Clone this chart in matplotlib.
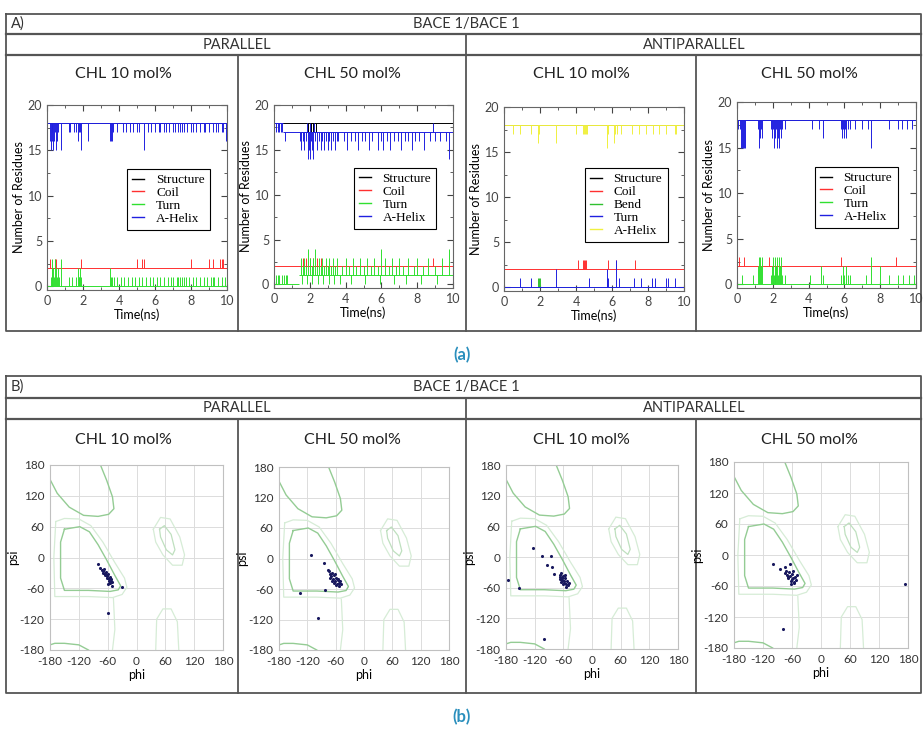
import matplotlib
matplotlib.use('Agg')
import matplotlib.pyplot as plt
from matplotlib.lines import Line2D

W, H = 924, 733
SANS = ['Lato', 'DejaVu Sans']
SERIF = ['Liberation Serif', 'DejaVu Serif']
plt.rcParams['font.family'] = SANS
plt.rcParams['axes.unicode_minus'] = False

# ---------------- DSSP data (time in ns, number of residues) ----------------
# each series: baseline segments (t0, t1, level) + spikes (t, value)
a1_struct_segs = [(0, 10, 18)]
a1_struct = []
a1_helix_segs = [(0, 10, 18)]
a1_helix = [(0.15, 16), (0.2, 15), (0.25, 17), (0.3, 16), (0.35, 15), (0.4, 16), (0.45, 17),
            (0.5, 15), (0.55, 16), (0.6, 17), (0.75, 15), (1.2, 17), (1.25, 17), (1.5, 17),
            (1.6, 17), (1.7, 16), (1.75, 17), (1.85, 17), (1.9, 15), (2.3, 16), (3.5, 16),
            (3.55, 16), (3.6, 16), (3.65, 17), (3.9, 17), (4.2, 17), (4.4, 17), (4.6, 17),
            (4.8, 17), (5.0, 17), (5.1, 17), (5.4, 15), (5.6, 17), (5.8, 17), (6.0, 17),
            (6.2, 17), (6.3, 17), (6.5, 17), (6.6, 17), (6.8, 17), (7.0, 17), (7.1, 17),
            (7.3, 17), (7.4, 17), (7.5, 17), (7.6, 17), (7.8, 17), (8.0, 17), (8.1, 17),
            (8.3, 17), (8.5, 17), (8.7, 17), (8.8, 17), (9.0, 17), (9.2, 17), (9.4, 17),
            (9.5, 17), (9.7, 17), (9.8, 17), (9.95, 16)]
a1_coil_segs = [(0, 10, 2)]
a1_coil = [(0.15, 3), (0.45, 3), (0.5, 3), (1.9, 3), (5.0, 3), (5.3, 3), (5.4, 3), (8.0, 3),
           (9.0, 3), (9.2, 3), (9.6, 3), (9.7, 3), (9.75, 3)]
a1_turn_segs = [(0, 10, 0)]
a1_turn = [(0.2, 1), (0.25, 2), (0.3, 3), (0.35, 2), (0.4, 1), (0.45, 3), (0.5, 2), (0.55, 1),
           (0.6, 2), (0.65, 1), (0.8, 3), (1.2, 1), (1.4, 1), (1.6, 1), (1.7, 2), (1.75, 1),
           (1.8, 1), (1.85, 2), (1.9, 1), (3.5, 2), (3.55, 1), (3.6, 1), (3.7, 1), (3.9, 1),
           (4.1, 1), (4.3, 1), (4.5, 1), (4.7, 1), (4.9, 1), (5.1, 1), (5.3, 1), (5.5, 1),
           (5.7, 1), (5.9, 1), (6.1, 1), (6.3, 1), (6.5, 1), (6.7, 1), (6.9, 1), (7.0, 1),
           (7.2, 1), (7.3, 1), (7.4, 1), (7.5, 1), (7.6, 1), (7.7, 1), (7.9, 1), (8.1, 1),
           (8.3, 1), (8.5, 1), (8.7, 1), (8.9, 1), (9.1, 1), (9.2, 1), (9.3, 1), (9.5, 1),
           (9.7, 1), (9.9, 1)]

a2_struct_segs = [(0, 10, 18)]
a2_struct = [(1.9, 17), (2.05, 17), (2.2, 17), (2.35, 17), (8.9, 17)]
a2_helix_segs = [(0, 0.5, 18), (0.5, 10, 17)]
a2_helix = [(0.1, 17), (0.2, 17), (0.3, 17), (0.4, 17), (0.45, 17), (0.6, 16),
            (1.45, 16), (1.5, 15), (1.6, 16), (1.7, 15), (1.8, 16), (1.9, 14), (1.95, 15),
            (2.0, 14), (2.05, 16), (2.1, 15), (2.2, 14), (2.3, 16), (2.4, 15), (2.5, 16),
            (2.6, 15), (2.7, 16), (2.8, 15), (2.9, 16), (3.0, 15), (3.1, 16), (3.2, 15),
            (3.3, 16), (3.4, 15), (3.5, 16), (3.6, 16), (3.9, 16), (4.1, 15), (4.3, 16),
            (4.5, 16), (4.7, 15), (4.9, 16), (5.1, 16), (5.3, 15), (5.5, 16), (5.8, 15),
            (6.0, 16), (6.1, 15), (6.3, 16), (6.5, 15), (6.7, 16), (6.9, 16), (7.1, 15),
            (7.3, 16), (7.5, 16), (7.7, 15), (7.9, 16), (8.1, 16), (8.4, 15), (8.7, 16),
            (9.0, 16), (9.3, 16), (9.6, 16), (9.8, 14),
            (1.85, 18), (2.0, 18), (2.25, 18), (8.9, 18)]
a2_coil_segs = [(0, 10, 2)]
a2_coil = [(1.6, 3), (1.8, 3), (1.9, 3), (2.0, 3), (2.2, 3), (2.4, 3), (2.6, 3), (8.9, 3)]
a2_turn_segs = [(0, 1.4, 0), (1.4, 10, 1)]
a2_turn = [(0.1, 1), (0.2, 1), (0.3, 1), (0.45, 1), (0.55, 1), (0.65, 1), (0.7, 1),
           (1.5, 3), (1.6, 2), (1.7, 3), (1.8, 2), (1.9, 4), (2.0, 3), (2.1, 2), (2.2, 3),
           (2.3, 4), (2.4, 2), (2.5, 3), (2.6, 2), (2.7, 3), (2.8, 2), (2.9, 3), (3.0, 2),
           (3.1, 3), (3.2, 2), (3.3, 3), (3.4, 2), (3.5, 3), (3.8, 2), (4.0, 3), (4.2, 2),
           (4.4, 3), (4.6, 2), (4.8, 3), (5.0, 2), (5.2, 3), (5.4, 2), (5.6, 3), (5.8, 2),
           (6.0, 4), (6.2, 3), (6.4, 2), (6.6, 3), (6.8, 2), (7.0, 3), (7.2, 2), (7.5, 3),
           (7.8, 2), (8.0, 3), (8.3, 2), (8.6, 3), (9.0, 2), (9.4, 3), (9.8, 4),
           (1.55, 0), (1.85, 0), (2.15, 0), (2.45, 0), (2.75, 0), (3.05, 0), (3.35, 0),
           (3.7, 0), (4.3, 0), (5.1, 0), (5.9, 0), (6.7, 0), (7.4, 0), (8.2, 0), (9.1, 0)]

a3_struct_segs = [(0, 10, 18)]
a3_struct = []
a3_helix_segs = [(0, 10, 18)]
a3_helix = [(0.5, 17), (0.9, 17), (1.5, 17), (1.9, 16), (1.95, 17), (2.9, 16), (4.0, 17),
            (4.4, 17), (4.45, 17), (4.5, 17), (4.55, 17), (4.6, 17), (5.7, 15.5), (5.75, 16),
            (5.8, 17), (6.1, 16), (6.15, 17), (6.3, 17), (6.5, 17), (7.1, 17), (7.5, 17),
            (7.9, 17), (8.3, 17), (8.6, 17), (9.0, 17), (9.5, 17), (9.55, 17), (9.98, 17)]
a3_coil_segs = [(0, 10, 2)]
a3_coil = [(4.1, 3), (4.4, 3), (4.45, 3), (4.5, 3), (4.55, 3), (5.8, 3), (6.2, 3), (7.3, 3)]
a3_bend_segs = [(0, 10, 0)]
a3_bend = [(1.9, 1), (1.95, 1), (2.0, 1)]
a3_turn_segs = [(0, 10, 0)]
a3_turn = [(0.9, 1), (1.5, 1), (2.9, 2), (4.7, 1), (5.7, 2), (5.75, 1), (5.8, 1), (6.2, 3),
           (6.4, 1), (7.2, 1), (7.6, 1), (8.2, 1), (8.4, 1), (9.0, 1), (9.1, 1), (9.5, 1)]

a4_struct_segs = [(0, 10, 18)]
a4_struct = []
a4_helix_segs = [(0, 10, 18)]
a4_helix = [(0.05, 17), (0.15, 17), (0.25, 15), (0.3, 15), (0.35, 15), (0.4, 15), (0.45, 15),
            (1.2, 17), (1.25, 15), (1.3, 16), (1.35, 17), (1.4, 16), (1.9, 17), (1.95, 16),
            (2.0, 17), (2.05, 15), (2.1, 16), (2.2, 17), (2.25, 15), (2.3, 16), (2.35, 15),
            (2.4, 17), (2.45, 16), (2.5, 17), (2.7, 17), (4.2, 17), (4.6, 17), (4.8, 16),
            (5.8, 17), (5.85, 16), (5.9, 17), (6.0, 16), (6.05, 17), (6.1, 16), (6.2, 17),
            (6.3, 17), (6.6, 17), (7.0, 17), (7.3, 17), (7.5, 15), (8.5, 17), (9.0, 17),
            (9.2, 17), (9.5, 17), (9.8, 17)]
a4_coil_segs = [(0, 10, 2)]
a4_coil = [(0.1, 3), (0.4, 3), (1.8, 3), (5.8, 3), (8.9, 3)]
a4_turn_segs = [(0, 10, 0)]
a4_turn = [(0.3, 1), (0.9, 1), (1.15, 2), (1.25, 3), (1.3, 3), (1.35, 2), (1.4, 3), (1.9, 1),
           (1.95, 2), (2.0, 3), (2.05, 1), (2.1, 2), (2.15, 3), (2.2, 2), (2.25, 3), (2.3, 1),
           (2.35, 3), (2.4, 2), (2.45, 3), (2.5, 1), (2.7, 1), (4.1, 1), (4.7, 2), (4.8, 1),
           (5.8, 1), (5.9, 2), (6.0, 1), (6.1, 2), (6.2, 1), (6.3, 1), (7.2, 1), (7.5, 3),
           (8.0, 2), (8.5, 1), (9.0, 1), (9.3, 1), (9.6, 1), (9.9, 1)]

# ---------------- Ramachandran data (phi, psi in degrees) ----------------
b1_points = [(-80, -12), (-75, -20), (-72, -25), (-70, -30), (-68, -22), (-66, -35), (-64, -28),
             (-62, -40), (-60, -33), (-58, -45), (-56, -38), (-55, -50), (-53, -42), (-52, -55),
             (-50, -47), (-65, -32), (-61, -36), (-57, -41), (-69, -27), (-54, -46), (-59, -52),
             (-30, -58), (-60, -108)]
b2_points = [(-113, 7), (-85, -8), (-135, -68), (-83, -61), (-97, -117), (-77, -22),
             (-75, -25), (-72, -30), (-70, -35), (-68, -28), (-66, -40), (-64, -33), (-62, -45),
             (-60, -38), (-58, -50), (-56, -42), (-54, -48), (-52, -55), (-50, -45), (-48, -50),
             (-63, -48), (-67, -44), (-59, -53), (-55, -40), (-71, -38), (-61, -30)]
b3_points = [(-124, 17), (-104, 2), (-86, 2), (-94, -15), (-84, -19), (-175, -45), (-152, -60),
             (-100, -161), (-79, -33), (-68, -35), (-66, -40), (-64, -32), (-62, -45), (-60, -38),
             (-58, -50), (-56, -42), (-54, -52), (-52, -47), (-50, -55), (-48, -50), (-65, -48),
             (-61, -53), (-57, -36), (-63, -42), (-55, -58), (-59, -46), (-67, -44)]
b4_points = [(-99, -18), (-85, -28), (-75, -23), (-65, -18), (174, -56), (-79, -143),
             (-72, -30), (-70, -38), (-68, -45), (-66, -32), (-64, -40), (-62, -50), (-60, -36),
             (-58, -44), (-56, -55), (-54, -42), (-52, -48), (-50, -38), (-63, -56), (-57, -30),
             (-69, -42), (-61, -46), (-55, -52), (-74, -35)]

# allowed-region outlines (background of the Ramachandran plot)
core_alpha_phi = [-150, -118, -98, -80, -62, -45, -33, -38, -55, -100, -150, -158, -158, -150]
core_alpha_psi = [55, 60, 50, 25, -5, -35, -55, -63, -66, -64, -64, -40, 30, 55]
core_beta_phi = [-75, -62, -50, -47, -58, -80, -110, -140, -165, -180]
core_beta_psi = [180, 150, 118, 95, 84, 80, 82, 98, 125, 152]
core_wrap_phi = [-180, -170, -150, -120, -100]
core_wrap_psi = [-170, -167, -167, -170, -180]
outer_alpha_phi = [-168, -150, -120, -95, -70, -45, -25, -20, -30, -50, -100, -170, -172, -168]
outer_alpha_psi = [70, 76, 75, 62, 30, -10, -40, -58, -72, -78, -76, -76, 0, 70]
outer_down_phi = [-48, -45, -50]
outer_down_psi = [-80, -140, -180]
left_outer_phi = [35, 50, 70, 90, 100, 95, 75, 55, 40, 35]
left_outer_psi = [55, 78, 75, 40, 5, -15, -15, 5, 30, 55]
left_inner_phi = [48, 58, 72, 80, 75, 62, 50, 48]
left_inner_psi = [55, 62, 45, 15, 5, 15, 40, 55]
low_right_phi = [40, 42, 55, 72, 85, 88]
low_right_psi = [-180, -120, -100, -100, -125, -180]

ang_ticks = [-180, -120, -60, 0, 60, 120, 180]


def box(x0, y0, x1, y1):
    return [x0 / W, 1 - y1 / H, (x1 - x0) / W, (y1 - y0) / H]


def base_at(segs, t):
    for t0, t1, lev in segs:
        if t0 <= t <= t1:
            return lev
    return segs[-1][2]


def draw_series(ax, segs, spikes, color):
    for t0, t1, lev in segs:
        ax.hlines(lev, t0, t1, color=color, lw=0.7)
    if spikes:
        ts = [p[0] for p in spikes]
        vs = [p[1] for p in spikes]
        ax.vlines(ts, [base_at(segs, t) for t in ts], vs, color=color, lw=0.7)


fig = plt.figure(figsize=(W / 100, H / 100), dpi=100)

# frame / table overlay in pixel coordinates
ov = fig.add_axes([0, 0, 1, 1])
ov.set_xlim(0, W)
ov.set_ylim(H, 0)
ov.axis('off')
lc = '#555555'
for top, r1, r2, bot in [(14, 34, 55, 331), (376, 398, 419, 693)]:
    ov.plot([6, 921, 921, 6, 6], [top, top, bot, bot, top], color=lc, lw=1.3)
    ov.plot([6, 921], [r1, r1], color=lc, lw=1.6)
    ov.plot([6, 921], [r2, r2], color=lc, lw=1.6)
    ov.plot([466, 466], [r1, bot], color=lc, lw=1.3)
    ov.plot([238, 238], [r2, bot], color=lc, lw=1.3)
    ov.plot([696, 696], [r2, bot], color=lc, lw=1.3)

for lab, y_hdr, y_grp, y_ttl in [('A)', 24, 45, 74), ('B)', 387, 408, 440)]:
    ov.text(11, y_hdr, lab, fontsize=10.5, va='center', ha='left', color='#333333')
    ov.text(466, y_hdr, 'BACE 1/BACE 1', fontsize=10.5, va='center', ha='center', color='#333333')
    ov.text(237, y_grp, 'PARALLEL', fontsize=10.5, va='center', ha='center', color='#333333')
    ov.text(694, y_grp, 'ANTIPARALLEL', fontsize=10.5, va='center', ha='center', color='#333333')
    for xc, ttl in zip([123, 352, 581, 809], ['CHL 10 mol%', 'CHL 50 mol%', 'CHL 10 mol%', 'CHL 50 mol%']):
        ov.text(xc, y_ttl, ttl, fontsize=11.5, va='center', ha='center', color='#222222')

ov.text(462, 355, '(a)', fontsize=12, fontweight='bold', va='center', ha='center', color='#2a8fbd')
ov.text(462, 717, '(b)', fontsize=12, fontweight='bold', va='center', ha='center', color='#2a8fbd')

# ---------------- panels A: DSSP ----------------
std = [('Structure', 'black'), ('Coil', '#ff3030'), ('Turn', '#30e030'), ('A-Helix', '#2020e0')]
panels_a = [
    ([47, 105, 227, 290], (0.675, 0.49),
     [(a1_struct_segs, a1_struct, 'black'), (a1_coil_segs, a1_coil, '#ff3030'),
      (a1_turn_segs, a1_turn, '#30e030'), (a1_helix_segs, a1_helix, '#2020e0')], std),
    ([274, 105, 453, 288], (0.676, 0.49),
     [(a2_struct_segs, a2_struct, 'black'), (a2_coil_segs, a2_coil, '#ff3030'),
      (a2_turn_segs, a2_turn, '#30e030'), (a2_helix_segs, a2_helix, '#2020e0')], std),
    ([504, 107, 684, 291], (0.678, 0.467),
     [(a3_struct_segs, a3_struct, 'black'), (a3_coil_segs, a3_coil, '#ff3030'),
      (a3_bend_segs, a3_bend, '#30c030'), (a3_turn_segs, a3_turn, '#2020e0'),
      (a3_helix_segs, a3_helix, '#f0f040')],
     [('Structure', 'black'), ('Coil', '#ff3030'), ('Bend', '#30c030'), ('Turn', '#2020e0'),
      ('A-Helix', '#f0f040')]),
    ([737, 102, 916, 288], (0.665, 0.487),
     [(a4_struct_segs, a4_struct, 'black'), (a4_coil_segs, a4_coil, '#ff3030'),
      (a4_turn_segs, a4_turn, '#30e030'), (a4_helix_segs, a4_helix, '#2020e0')], std),
]

for rect, leg_c, series, leg in panels_a:
    ax = fig.add_axes(box(*rect))
    for segs, spikes, col in series:
        draw_series(ax, segs, spikes, col)
    ax.set_xlim(0, 10)
    ax.set_ylim(-0.4, 20)
    ax.set_xticks(range(0, 11, 2))
    ax.set_yticks(range(0, 21, 5))
    ax.set_xticks(range(1, 10, 2), minor=True)
    ax.set_yticks([2.5, 7.5, 12.5, 17.5], minor=True)
    ax.tick_params(which='both', direction='in', top=True, right=True, labelsize=9, colors='#444444')
    ax.tick_params(which='major', length=4)
    ax.tick_params(which='minor', length=2)
    for s in ax.spines.values():
        s.set_color('#666666')
        s.set_linewidth(0.8)
    ax.set_xlabel('Time(ns)', fontsize=9, labelpad=1)
    ax.set_ylabel('Number of Residues', fontsize=9, labelpad=2)
    handles = [Line2D([], [], color=c, lw=1) for _, c in leg]
    lg = ax.legend(handles, [n for n, _ in leg], loc='center', bbox_to_anchor=leg_c,
                   prop={'family': SERIF, 'size': 9.5}, handlelength=0.9, handletextpad=0.9,
                   labelspacing=0.05, borderpad=0.4, fancybox=False, framealpha=1)
    lg.get_frame().set_edgecolor('black')
    lg.get_frame().set_linewidth(0.8)

# ---------------- panels B: Ramachandran ----------------
panels_b = [([50, 465, 223, 650], b1_points), ([279, 467, 449, 650], b2_points),
            ([506, 465, 678, 649], b3_points), ([734, 462, 908, 648], b4_points)]

for rect, pts in panels_b:
    ax = fig.add_axes(box(*rect))
    ax.grid(True, color='#dcdcdc', lw=0.7)
    ax.set_axisbelow(True)
    dark = '#94cc94'
    light = '#d6ecd6'
    ax.plot(outer_alpha_phi, outer_alpha_psi, color=light, lw=0.9)
    ax.plot(outer_down_phi, outer_down_psi, color=light, lw=0.9)
    ax.plot(left_outer_phi, left_outer_psi, color=light, lw=0.9)
    ax.plot(low_right_phi, low_right_psi, color=light, lw=0.9)
    ax.plot(left_inner_phi, left_inner_psi, color='#bfe0bf', lw=0.9)
    ax.plot(core_alpha_phi, core_alpha_psi, color=dark, lw=1.0)
    ax.plot(core_beta_phi, core_beta_psi, color=dark, lw=1.0)
    ax.plot(core_wrap_phi, core_wrap_psi, color=dark, lw=1.0)
    ax.scatter([p[0] for p in pts], [p[1] for p in pts], s=5, marker='o', color='#18185e',
               linewidths=0, zorder=3)
    ax.set_xlim(-180, 180)
    ax.set_ylim(-180, 180)
    ax.set_xticks(ang_ticks)
    ax.set_yticks(ang_ticks)
    ax.tick_params(length=0, labelsize=8.5, colors='#333333', pad=4)
    for s in ax.spines.values():
        s.set_color('#c0c0c0')
        s.set_linewidth(0.8)
    ax.set_xlabel('phi', fontsize=9, labelpad=2)
    ax.set_ylabel('psi', fontsize=9, labelpad=0)

fig.savefig('out.png', dpi=100)
